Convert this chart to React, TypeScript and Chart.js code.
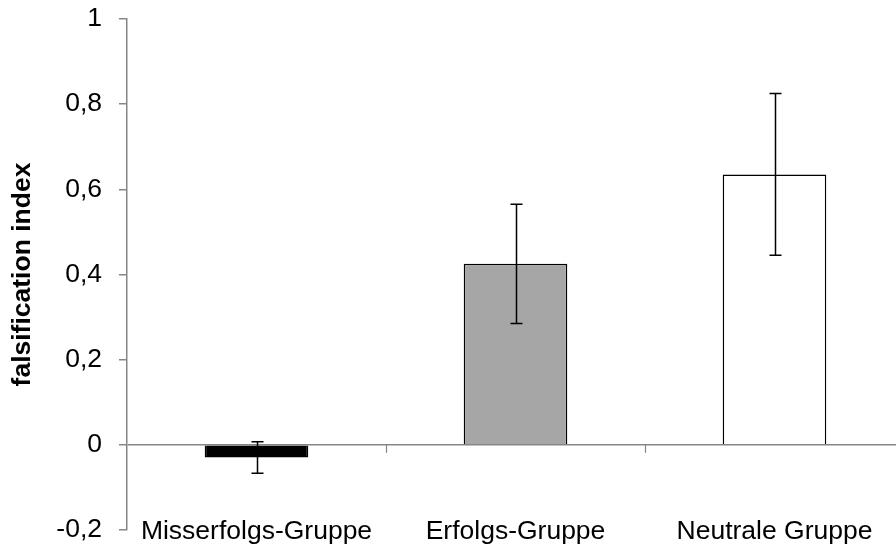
import React, { useEffect, useRef } from "react";
import { Chart, registerables } from "chart.js";

Chart.register(...registerables);

const categories = ["Misserfolgs-Gruppe", "Erfolgs-Gruppe", "Neutrale Gruppe"];
const means = [-0.03, 0.425, 0.635];
const errors = [0.037, 0.14, 0.19];
const yTickValues = [-0.2, 0, 0.2, 0.4, 0.6, 0.8, 1];
const yTickLabels = ["-0,2", "0", "0,2", "0,4", "0,6", "0,8", "1"];
const yTitle = "falsification index";

const barColors = ["#000000", "#a6a6a6", "#ffffff"];
const AXIS = "#868686";
const FONT = "'Liberation Sans', Arial, sans-serif";
const FS = 26.5;

const errorBarPlugin = {
  id: "errorBars",
  afterDatasetsDraw(chart: any) {
    const ctx = chart.ctx;
    const x = chart.scales.x;
    const y = chart.scales.y;
    ctx.save();
    ctx.strokeStyle = "#000";
    ctx.lineWidth = 1.5;
    means.forEach((m, i) => {
      const cx = Math.round(x.getPixelForValue(i)) + 0.5;
      const yTop = y.getPixelForValue(m + errors[i]);
      const yBot = y.getPixelForValue(m - errors[i]);
      ctx.beginPath();
      ctx.moveTo(cx, yTop);
      ctx.lineTo(cx, yBot);
      ctx.moveTo(cx - 6, yTop);
      ctx.lineTo(cx + 6, yTop);
      ctx.moveTo(cx - 6, yBot);
      ctx.lineTo(cx + 6, yBot);
      ctx.stroke();
    });
    ctx.restore();
  },
};

const categoryTickPlugin = {
  id: "categoryTicks",
  beforeDatasetsDraw(chart: any) {
    const ctx = chart.ctx;
    const x = chart.scales.x;
    const y = chart.scales.y;
    const y0 = y.getPixelForValue(0);
    ctx.save();
    ctx.strokeStyle = AXIS;
    ctx.lineWidth = 1.2;
    for (let i = 1; i < categories.length; i++) {
      const bx = Math.round((x.getPixelForValue(i - 1) + x.getPixelForValue(i)) / 2) + 0.5;
      ctx.beginPath();
      ctx.moveTo(bx, y0);
      ctx.lineTo(bx, y0 + 8);
      ctx.stroke();
    }
    ctx.restore();
  },
};

export default function App() {
  const ref = useRef<HTMLCanvasElement>(null);
  useEffect(() => {
    if (!ref.current) return;
    const chart = new Chart(ref.current, {
      type: "bar",
      data: {
        labels: categories,
        datasets: [
          {
            data: means,
            backgroundColor: barColors,
            borderColor: "#000000",
            borderWidth: 1.5,
            barPercentage: 0.4,
            categoryPercentage: 1,
          },
        ],
      },
      plugins: [categoryTickPlugin, errorBarPlugin],
      options: {
        responsive: false,
        animation: false,
        layout: { padding: { top: 19, right: 8, left: 0, bottom: 0 } },
        plugins: { legend: { display: false }, tooltip: { enabled: false } },
        scales: {
          x: {
            grid: { display: false },
            border: { display: false },
            ticks: {
              color: "#000",
              font: { family: FONT, size: FS },
              padding: -22,
              maxRotation: 0,
              autoSkip: false,
            },
            afterFit(scale: any) {
              scale.height = 14;
              scale.paddingLeft = 0;
              scale.paddingRight = 0;
              scale._computeLabelArea = () => undefined;
            },
          },
          y: {
            min: -0.2,
            max: 1,
            afterBuildTicks(scale: any) {
              scale.ticks = yTickValues.map((v) => ({ value: v }));
            },
            ticks: {
              color: "#000",
              font: { family: FONT, size: FS },
              padding: 17,
              callback: (_v: any, i: number) => yTickLabels[i],
            },
            grid: {
              color: (c: any) => (c.tick && c.tick.value === 0 ? AXIS : "rgba(0,0,0,0)"),
              tickColor: AXIS,
              tickLength: 8,
              lineWidth: 1.5,
            },
            border: { display: true, color: AXIS, width: 1.5 },
            title: {
              display: true,
              text: yTitle,
              color: "#000",
              font: { family: FONT, size: FS, weight: "bold" },
              padding: { top: 7, bottom: 0 },
            },
            afterFit(scale: any) {
              scale.width = 127;
              scale.paddingTop = 0;
              scale.paddingBottom = 0;
            },
          },
        },
      },
    });
    return () => chart.destroy();
  }, []);
  return (
    <div style={{ position: "fixed", left: 0, top: 0, width: 896, height: 544, overflow: "hidden", background: "#fff" }}>
      <canvas ref={ref} width={912} height={544} style={{ display: "block" }} />
    </div>
  );
}
